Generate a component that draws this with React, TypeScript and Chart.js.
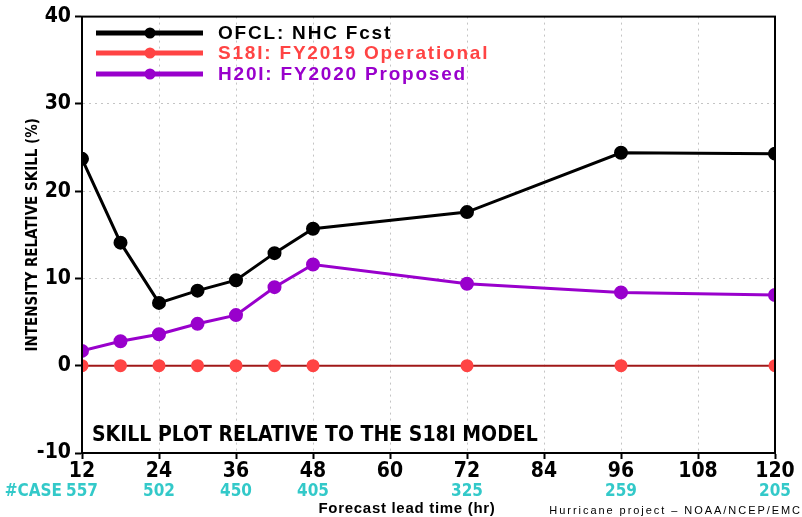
import React, { useEffect, useRef } from "react";
import { Chart, registerables } from "chart.js";

Chart.register(...registerables);

// Forecast lead times (hr)
const leadTimes = [12, 18, 24, 30, 36, 42, 48, 72, 96, 120];
// Relative intensity skill (%) vs S18I
const ofclSkill = [23.7, 14.1, 7.2, 8.6, 9.8, 12.9, 15.7, 17.6, 24.4, 24.3];
const s18iSkill = [0, 0, 0, 0, 0, 0, 0, 0, 0, 0];
const h20iSkill = [1.7, 2.8, 3.6, 4.8, 5.8, 9.0, 11.6, 9.4, 8.4, 8.1];
// Number of verifying cases, shown under selected lead times
const caseHours = [12, 24, 36, 48, 72, 96, 120];
const caseCounts = [557, 502, 450, 405, 325, 259, 205];
const seriesNames = ["OFCL: NHC Fcst", "S18I: FY2019 Operational", "H20I: FY2020 Proposed"];
const seriesColors = ["#000000", "#ff4444", "#9900cc"];

const NARROW = "'Liberation Sans Narrow', 'DejaVu Sans Condensed', 'Liberation Sans', sans-serif";
const SANS = "'Liberation Sans', Arial, sans-serif";
const CYAN = "#33c9c9";

const overlayPlugin = {
  id: "overlay",
  afterDatasetsDraw(chart: any) {
    const { ctx, chartArea: a, scales } = chart;
    const x = scales.x;
    const y = scales.y;
    ctx.save();

    // frame
    ctx.strokeStyle = "#000";
    ctx.lineWidth = 2;
    ctx.strokeRect(a.left, a.top, a.right - a.left, a.bottom - a.top);

    // legend inside the plot
    const rows = [33, 53, 74];
    for (let i = 0; i < seriesNames.length; i++) {
      const ry = rows[i];
      ctx.strokeStyle = seriesColors[i];
      ctx.lineWidth = 5;
      ctx.beginPath();
      ctx.moveTo(96, ry);
      ctx.lineTo(203, ry);
      ctx.stroke();
      ctx.fillStyle = seriesColors[i];
      ctx.beginPath();
      ctx.arc(150, ry, 5.5, 0, Math.PI * 2);
      ctx.fill();
      ctx.font = "bold 19px " + SANS;
      (ctx as any).letterSpacing = "1.8px";
      ctx.textBaseline = "middle";
      ctx.textAlign = "left";
      ctx.fillText(seriesNames[i], 218, ry + 1);
    }
    (ctx as any).letterSpacing = "0px";

    // note inside plot
    ctx.fillStyle = "#000";
    ctx.font = "bold 21px " + NARROW;
    ctx.textBaseline = "alphabetic";
    ctx.textAlign = "left";
    ctx.fillText("SKILL PLOT RELATIVE TO THE S18I MODEL", 92, 441);

    // case counts
    ctx.fillStyle = CYAN;
    ctx.font = "bold 17px " + NARROW;
    ctx.textBaseline = "middle";
    ctx.textAlign = "center";
    caseHours.forEach((h, i) => {
      ctx.fillText(String(caseCounts[i]), x.getPixelForValue(h), 492);
    });
    ctx.textAlign = "right";
    ctx.fillText("#CASE", x.getPixelForValue(12) - 20, 492);

    // axis title
    ctx.fillStyle = "#000";
    ctx.font = "bold 15px " + SANS;
    (ctx as any).letterSpacing = "0.7px";
    ctx.textAlign = "center";
    ctx.fillText("Forecast lead time (hr)", 407, 509);

    ctx.font = "11px " + SANS;
    (ctx as any).letterSpacing = "1.95px";
    ctx.textAlign = "right";
    ctx.fillText("Hurricane project \u2013 NOAA/NCEP/EMC", 802, 511);
    (ctx as any).letterSpacing = "0px";

    // y-axis title
    ctx.translate(33, y.getPixelForValue(15));
    ctx.rotate(-Math.PI / 2);
    ctx.font = "bold 15px " + NARROW;
    ctx.textAlign = "center";
    ctx.textBaseline = "middle";
    ctx.fillText("INTENSITY RELATIVE SKILL (%)", 0, 0);
    ctx.restore();
  },
};

export default function App() {
  const canvasRef = useRef<HTMLCanvasElement | null>(null);

  useEffect(() => {
    document.body.style.margin = "0";
    const makeSeries = (vals: number[]) => leadTimes.map((t, i) => ({ x: t, y: vals[i] }));
    const chart = new Chart(canvasRef.current as HTMLCanvasElement, {
      type: "line",
      data: {
        datasets: [
          {
            label: seriesNames[1],
            data: makeSeries(s18iSkill),
            borderColor: "#a01818",
            borderWidth: 2,
            pointBackgroundColor: "#ff4444",
            pointBorderColor: "#ff4444",
            pointRadius: 5.5,
            order: 3,
          },
          {
            label: seriesNames[2],
            data: makeSeries(h20iSkill),
            borderColor: "#9900cc",
            borderWidth: 3,
            pointBackgroundColor: "#9900cc",
            pointBorderColor: "#9900cc",
            pointRadius: 5.5,
            order: 2,
          },
          {
            label: seriesNames[0],
            data: makeSeries(ofclSkill),
            borderColor: "#000000",
            borderWidth: 3,
            pointBackgroundColor: "#000000",
            pointBorderColor: "#000000",
            pointRadius: 5.5,
            order: 1,
          },
        ],
      },
      options: {
        animation: false,
        responsive: false,
        maintainAspectRatio: false,
        layout: { padding: { left: 0, top: 15, right: 27, bottom: 0 } },
        plugins: { legend: { display: false }, tooltip: { enabled: false } },
        scales: {
          x: {
            type: "linear",
            min: 12,
            max: 120,
            afterFit: (s: any) => {
              s.height = 64;
            },
            ticks: {
              stepSize: 12,
              color: "#000",
              font: { family: NARROW, size: 21, weight: "bold" },
              padding: 0,
            },
            grid: {
              color: "#c4c4c4",
              tickColor: "#000",
              tickLength: 6,
              tickWidth: 2,
            },
            border: { color: "#000", width: 2, dash: [2, 4] },
          },
          y: {
            min: -10,
            max: 40,
            afterFit: (s: any) => {
              s.width = 82;
            },
            ticks: {
              stepSize: 10,
              color: "#000",
              font: { family: NARROW, size: 21, weight: "bold" },
              padding: 4,
            },
            grid: {
              color: (c: any) => (c.tick && c.tick.value === 0 ? "#000" : "#c4c4c4"),
              tickColor: "#000",
              tickLength: 7,
              tickWidth: 2,
            },
            border: { color: "#000", width: 2, dash: [2, 4] },
          },
        },
      },
      plugins: [overlayPlugin],
    } as any);
    return () => chart.destroy();
  }, []);

  return (
    <div style={{ position: "absolute", left: 0, top: 0, width: 802, height: 517, background: "#fff" }}>
      <canvas ref={canvasRef} width={802} height={517} style={{ width: 802, height: 517 }} />
    </div>
  );
}
